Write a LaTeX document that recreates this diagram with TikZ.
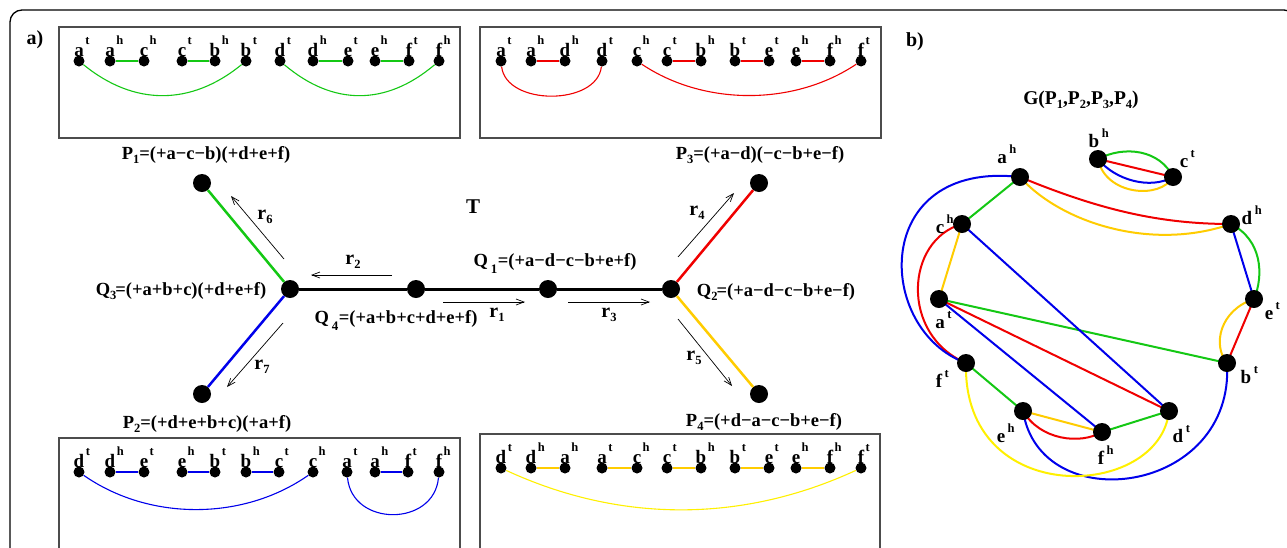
\documentclass[tikz,border=0pt]{standalone}
\usepackage{fontspec}
\setmainfont{Liberation Serif}
\usetikzlibrary{arrows.meta}
\definecolor{cg}{RGB}{20,200,20}
\definecolor{cr}{RGB}{240,0,0}
\definecolor{cb}{RGB}{0,0,235}
\definecolor{cy}{RGB}{255,204,0}
\definecolor{cyy}{RGB}{255,240,0}
\newcommand\mysub[1]{\raisebox{-3.5pt}{\fontsize{12.5}{12.5}\selectfont #1}}
\newcommand\mybar[1]{\hspace{3pt}\raisebox{-7pt}{\fontsize{13}{13}\selectfont #1}\hspace{0.5pt}}
\newcommand\blt[2]{#1\rlap{\hspace{1.5pt}\raisebox{12pt}{\fontsize{12.5}{12.5}\selectfont #2}}}
\newcommand\glt[2]{#1\rlap{\hspace{2.5pt}\raisebox{10pt}{\fontsize{12.5}{12.5}\selectfont #2}}}
\tikzset{
  bdot/.style={circle,fill=black,inner sep=0,minimum size=11},
  bigdot/.style={circle,fill=black,inner sep=0,minimum size=18},
  blet/.style={anchor=base,inner sep=0,font=\fontsize{19}{19}\selectfont\bfseries},
  lab/.style={inner sep=0,font=\fontsize{18.5}{20}\selectfont\bfseries},
  rlab/.style={inner sep=0,font=\fontsize{20}{20}\selectfont\bfseries},
  pbox/.style={draw=black!70,line width=1.3},
  thin/.style={line width=1.1},
  gedge/.style={line width=2},
  arr/.style={line width=0.7,-{Straight Barb[length=8pt,width=6pt]}},
}
\begin{document}
\begin{tikzpicture}[x=1pt,y=-1pt]
\useasboundingbox (0,0) rectangle (1287,547);
\clip (0,0) rectangle (1287,547);
\fill[white] (0,0) rectangle (1287,547);
\draw[line width=1.3,rounded corners=12] (10,10) rectangle (1296,600);
\node[inner sep=0,font=\fontsize{20}{20}\selectfont\bfseries] (la) at (35,40) {a)};
\node[inner sep=0,font=\fontsize{20}{20}\selectfont\bfseries] (lb) at (915,42) {b)};
% ---------- boxes
\draw[pbox] (59,27) rectangle (460,138);
\draw[pbox] (480,27) rectangle (881,138);
\draw[pbox] (59,438) rectangle (460,600);
\draw[pbox] (480,434) rectangle (880,600);
% P1 box
\foreach \i/\x/\l/\s in {1/79/a/t,2/110/a/h,3/144/c/h,4/182/c/t,5/215/b/h,6/246/b/t,7/280/d/t,8/313/d/h,9/348/e/t,10/375/e/h,11/409/f/t,12/439/f/h}
  {\node[bdot] (pa\i) at (\x,61) {}; \node[blet] (pal\i) at (\x,56) {\blt{\l}{\s}};}
\draw[thin,cg] (pa2)--(pa3) (pa4)--(pa5) (pa8)--(pa9) (pa10)--(pa11);
\draw[thin,cg] (pa1) .. controls (134,106) and (191,106) .. (pa6);
\draw[thin,cg] (pa7) .. controls (333,106) and (386,106) .. (pa12);
% P3 box
\foreach \i/\x/\l/\s in {1/501/a/t,2/531/a/h,3/565/d/h,4/602/d/t,5/637/c/h,6/667/c/t,7/701/b/h,8/735/b/t,9/769/e/t,10/796/e/h,11/830/f/h,12/861/f/t}
  {\node[bdot] (pc\i) at (\x,61) {}; \node[blet] (pcl\i) at (\x,56) {\blt{\l}{\s}};}
\draw[thin,cr] (pc2)--(pc3) (pc6)--(pc7) (pc8)--(pc9) (pc10)--(pc11);
\draw[thin,cr] (pc1) .. controls (506,106) and (597,106) .. (pc4);
\draw[thin,cr] (pc5) .. controls (704,106) and (794,106) .. (pc12);
% P2 box
\foreach \i/\x/\l/\s in {1/79/d/t,2/110/d/h,3/144/e/t,4/182/e/h,5/215/b/t,6/246/b/h,7/279/c/t,8/313/c/h,9/347/a/t,10/375/a/h,11/408/f/t,12/439/f/h}
  {\node[bdot] (pb\i) at (\x,472) {}; \node[blet] (pbl\i) at (\x,467) {\blt{\l}{\s}};}
\draw[thin,cb] (pb2)--(pb3) (pb4)--(pb5) (pb6)--(pb7) (pb10)--(pb11);
\draw[thin,cb] (pb1) .. controls (149,521) and (243,521) .. (pb8);
\draw[thin,cb] (pb9) .. controls (352,527) and (434,527) .. (pb12);
% P4 box
\foreach \i/\x/\l/\s in {1/501/d/t,2/531/d/h,3/565/a/h,4/602/a/t,5/637/c/h,6/667/c/t,7/701/b/h,8/735/b/t,9/769/e/t,10/796/e/h,11/830/f/h,12/861/f/t}
  {\node[bdot] (pd\i) at (\x,468) {}; \node[blet] (pdl\i) at (\x,463) {\blt{\l}{\s}};}
\draw[thin,cy] (pd2)--(pd3) (pd4)--(pd5) (pd6)--(pd7) (pd8)--(pd9) (pd10)--(pd11);
\draw[thin,cyy] (pd1) .. controls (620,523) and (742,523) .. (pd12);
% ---------- tree
\node[bigdot] (tP1) at (202,183) {};
\node[bigdot] (tP2) at (202,394) {};
\node[bigdot] (tP3) at (759,183) {};
\node[bigdot] (tP4) at (759,394) {};
\node[bigdot] (tQ3) at (290,289) {};
\node[bigdot] (tQ4) at (416,289) {};
\node[bigdot] (tQ1) at (548,289) {};
\node[bigdot] (tQ2) at (671,289) {};
\draw[line width=3] (tQ3)--(tQ4)--(tQ1)--(tQ2);
\draw[line width=2.5,cg] (tQ3)--(tP1);
\draw[line width=2.5,cb] (tQ3)--(tP2);
\draw[line width=2.5,cr] (tQ2)--(tP3);
\draw[line width=2.5,cy] (tQ2)--(tP4);
\node[lab] (lP1) at (206,155) {P\mysub{1}=(+a−c−b)(+d+e+f)};
\node[lab] (lP2) at (207,424) {P\mysub{2}=(+d+e+b+c)(+a+f)};
\node[lab] (lP3) at (760,155) {P\mysub{3}=(+a−d)(−c−b+e−f)};
\node[lab] (lP4) at (764,422) {P\mysub{4}=(+d−a−c−b+e−f)};
\node[lab] (lQ3) at (181,291) {Q\mysub{3}\hspace{-1pt}=(+a+b+c)(+d+e+f)};
\node[lab] (lQ2) at (776,292) {Q\mysub{2}\hspace{-1pt}=(+a−d−c−b+e−f)};
\node[lab] (lQ4) at (396,320) {Q\mybar{4}=(+a+b+c+d+e+f)};
\node[lab] (lQ1) at (555,263) {Q\mybar{1}=(+a−d−c−b+e+f)};
\node[inner sep=0,font=\fontsize{21}{21}\selectfont\bfseries] (lT) at (473,207) {T};
\coordinate (a6s) at (284,259); \coordinate (a6e) at (231,196);
\coordinate (a2s) at (392,275); \coordinate (a2e) at (311,275);
\coordinate (a7s) at (283,323); \coordinate (a7e) at (227,387);
\coordinate (a1s) at (443,302); \coordinate (a1e) at (525,302);
\coordinate (a3s) at (568,302); \coordinate (a3e) at (650,302);
\coordinate (a4s) at (678,257); \coordinate (a4e) at (734,193);
\coordinate (a5s) at (678,319); \coordinate (a5e) at (732,386);
\draw[arr] (a6s)--(a6e); \draw[arr] (a2s)--(a2e); \draw[arr] (a7s)--(a7e);
\draw[arr] (a1s)--(a1e); \draw[arr] (a3s)--(a3e); \draw[arr] (a4s)--(a4e); \draw[arr] (a5s)--(a5e);
\node[rlab] (r6) at (265,217) {r\mysub{6}};
\node[rlab] (r2) at (353,262) {r\mysub{2}};
\node[rlab] (r7) at (262,367) {r\mysub{7}};
\node[rlab] (r1) at (497,315) {r\mysub{1}};
\node[rlab] (r3) at (609,315) {r\mysub{3}};
\node[rlab] (r4) at (697,213) {r\mysub{4}};
\node[rlab] (r5) at (694,358) {r\mysub{5}};
% ---------- graph b
\node[lab,font=\fontsize{19.5}{20}\selectfont\bfseries] (lG) at (1081,100) {G(P\mysub{1},P\mysub{2},P\mysub{3},P\mysub{4})};
\coordinate (ah) at (1020,177);
\coordinate (bh) at (1098,159);
\coordinate (ct) at (1173,177);
\coordinate (ch) at (962,224);
\coordinate (dh) at (1231,224);
\coordinate (at) at (939,299);
\coordinate (et) at (1254,299);
\coordinate (ft) at (966,363);
\coordinate (bt) at (1227,363);
\coordinate (eh) at (1023,411);
\coordinate (dt) at (1169,411);
\coordinate (fh) at (1102,432);
% green
\draw[gedge,cg] (ah)--(ch) (eh)--(ft) (at)--(bt) (dt)--(fh);
\draw[gedge,cg] (bh) .. controls (1125,145) and (1160,150) .. (ct);
\draw[gedge,cg] (dh) .. controls (1262,240) and (1264,275) .. (et);
% red
\draw[gedge,cr] (bh)--(ct) (bt)--(et) (at)--(dt);
\draw[gedge,cr] (ah) .. controls (1100,210) and (1160,224) .. (dh);
\draw[gedge,cr] (eh) .. controls (1040,440) and (1080,445) .. (fh);
\draw[gedge,cr] (ch) .. controls (905,240) and (900,335) .. (ft);
% blue
\draw[gedge,cb] (dh)--(et) (dt)--(ch) (at)--(fh);
\draw[gedge,cb] (bh) .. controls (1115,180) and (1150,190) .. (ct);
\draw[gedge,cb] (ah) .. controls (870,160) and (875,330) .. (ft);
\draw[gedge,cb] (bt) .. controls (1235,495) and (1040,520) .. (eh);
% yellow
\draw[gedge,cy] (at)--(ch) (eh)--(fh);
\draw[gedge,cy] (bh) .. controls (1105,195) and (1160,200) .. (ct);
\draw[gedge,cy] (ah) .. controls (1060,222) and (1150,252) .. (dh);
\draw[gedge,cy] (et) .. controls (1220,310) and (1212,345) .. (bt);
\draw[gedge,cyy] (ft) .. controls (962,510) and (1160,500) .. (dt);
% graph nodes
\foreach \n in {ah,bh,ct,ch,dh,at,et,ft,bt,eh,dt,fh} {\node[bigdot] (g\n) at (\n) {};}
\node[blet] (gl1) at (1002,163) {\glt{a}{h}};
\node[blet] (gl2) at (1094,147) {\glt{b}{h}};
\node[blet] (gl3) at (1184,167) {\glt{c}{t}};
\node[blet] (gl4) at (940,233) {\glt{c}{h}};
\node[blet] (gl5) at (1247,224) {\glt{d}{h}};
\node[blet] (gl6) at (940,328) {\glt{a}{t}};
\node[blet] (gl7) at (1269,319) {\glt{e}{t}};
\node[blet] (gl8) at (939,387) {\glt{f}{t}};
\node[blet] (gl9) at (1246,383) {\glt{b}{t}};
\node[blet] (gl10) at (1001,442) {\glt{e}{h}};
\node[blet] (gl11) at (1178,442) {\glt{d}{t}};
\node[blet] (gl12) at (1101,464) {\glt{f}{h}};
\end{tikzpicture}
\end{document}
